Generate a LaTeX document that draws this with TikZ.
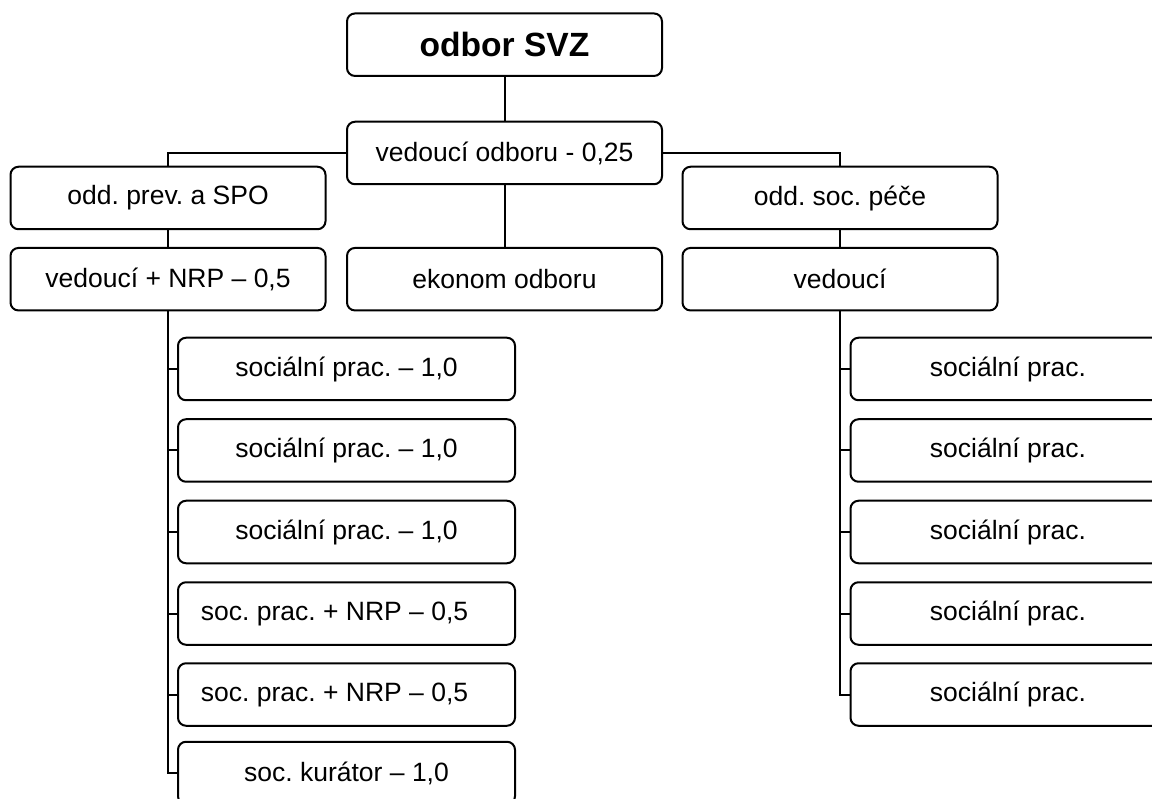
\documentclass[tikz,border=0pt]{standalone}
\usepackage{fontspec}
\setmainfont{Liberation Sans}
\frenchspacing
\begin{document}
\begin{tikzpicture}[x=1pt,y=-1pt,
  box/.style={draw, line width=2pt, rounded corners=8pt, rectangle,
    minimum width=315pt, minimum height=62.5pt, inner sep=0pt,
    font=\fontsize{26.5}{30}\selectfont\frenchspacing},
  wbox/.style={box, minimum width=337pt},
  conn/.style={line width=2pt}]
\clip (0,0) rectangle (1152,799);
\fill[white] (0,0) rectangle (1152,799);
% nodes
\node[box, font=\fontsize{33.6}{38}\selectfont\bfseries] (top) at (504.5,44.7) {odbor SVZ};
\node[box] (vo) at (504.5,153) {vedoucí odboru - 0,25};
\node[box] (opv) at (168,198) {odd. prev. a SPO};
\node[box] (ods) at (840,198) {odd. soc. péče};
\node[box] (vn) at (168,279.2) {vedoucí + NRP – 0,5};
\node[box] (ek) at (504.5,279.2) {ekonom odboru};
\node[box] (ved) at (840,279.2) {vedoucí};
% left children
\node[wbox] (l1) at (346.5,369) {sociální prac. – 1,0};
\node[wbox] (l2) at (346.5,450.5) {sociální prac. – 1,0};
\node[wbox] (l3) at (346.5,532) {sociální prac. – 1,0};
\node[wbox] (l4) at (346.5,613.5) {soc. prac. + NRP – 0,5\hspace*{24pt}};
\node[wbox] (l5) at (346.5,694.5) {soc. prac. + NRP – 0,5\hspace*{24pt}};
\node[wbox] (l6) at (346.5,773) {soc. kurátor – 1,0};
% right children
\node[box] (r1) at (1008,369) {sociální prac.};
\node[box] (r2) at (1008,450.5) {sociální prac.};
\node[box] (r3) at (1008,532) {sociální prac.};
\node[box] (r4) at (1008,613.5) {sociální prac.};
\node[box] (r5) at (1008,694.5) {sociální prac.};
% connectors
\draw[conn] (top.south) -- (vo.north);
\draw[conn] (vo.west) -| (opv.north);
\draw[conn] (vo.east) -| (ods.north);
\draw[conn] (vo.south) -- (ek.north);
\draw[conn] (opv.south) -- (vn.north);
\draw[conn] (ods.south) -- (ved.north);
\draw[conn] (vn.south) |- (l6.west);
\foreach \n in {l1,l2,l3,l4,l5}
  \draw[conn] (\n.west) -- (\n.west -| vn.south);
\draw[conn] (ved.south) |- (r5.west);
\foreach \n in {r1,r2,r3,r4}
  \draw[conn] (\n.west) -- (\n.west -| ved.south);
\end{tikzpicture}
\end{document}
